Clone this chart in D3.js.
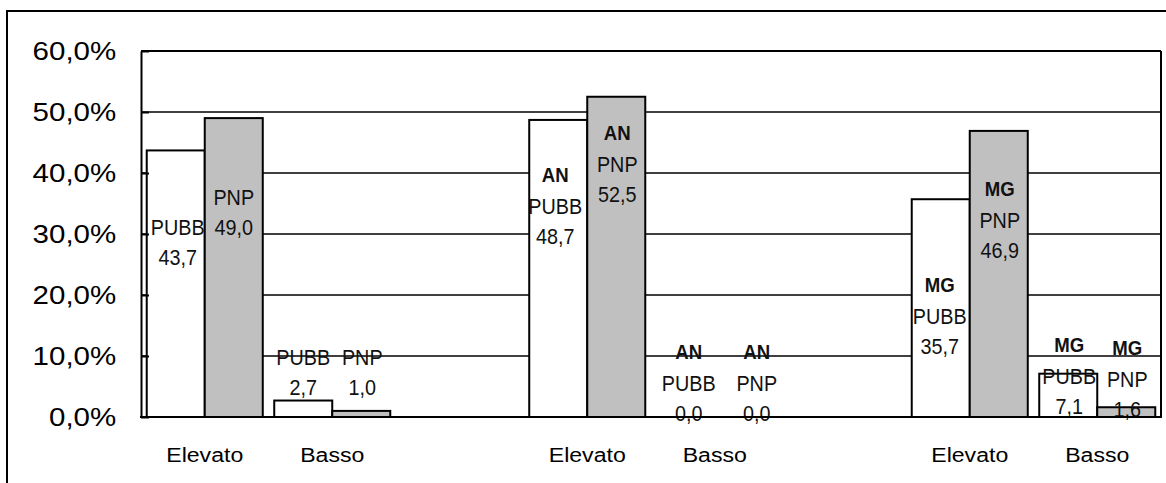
<!DOCTYPE html>
<html>
<head>
<meta charset="utf-8">
<script src="https://cdn.jsdelivr.net/npm/d3@7"></script>
<style>
  body { margin: 0; background: #fff; }
  svg { display: block; }
  .tick-label { font-family: "Liberation Sans", Arial, sans-serif; font-size: 25px; fill: #000; }
  .cat-label { font-family: "Liberation Sans", Arial, sans-serif; font-size: 21px; fill: #000; }
  .bar-label { font-family: "Liberation Sans", Arial, sans-serif; font-size: 22px; fill: #111; }
  .bar-label.bold { font-weight: bold; font-size: 20px; }
</style>
</head>
<body>
<div class="chart"></div>
<script>
// data
const groups = ["", "AN", "MG"]
const levels = ["Elevato", "Basso"]
const series = ["PUBB", "PNP"]
const pubbValues = [43.7, 2.7, 48.7, 0.0, 35.7, 7.1]
const pnpValues = [49.0, 1.0, 52.5, 0.0, 46.9, 1.6]
const yTicks = [0, 10, 20, 30, 40, 50, 60]

// where the original put the first line of each label (in % of the y axis)
const pubbLabelAt = [31.2, 9.9, 39.7, 10.7, 21.6, 11.8]
const pnpLabelAt = [36.1, 9.9, 46.6, 10.7, 37.4, 11.3]
const pubbLabelDx = [2, 0, -3, 3, -1, 1]
const pnpLabelDx = [0, 1, 1, 13, 1, 1]

const W = 1166, H = 483
const margin = {top: 51, right: 5, bottom: 66, left: 141}
const stretch = 1.1      // text in the picture is a little wide
const narrow = 0.9       // bar labels use a narrow face

const svg = d3.select(".chart").append("svg")
    .attr("width", W)
    .attr("height", H)

// outer frame
svg.append("rect")
    .attr("x", 7).attr("y", 11)
    .attr("width", W).attr("height", H)
    .attr("fill", "none")
    .attr("stroke", "#000")
    .attr("stroke-width", 2)

// slots: each group has Elevato + Basso, with an empty slot between groups
const slots = []
groups.forEach((g, gi) => {
    levels.forEach((l, li) => slots.push(`${gi}-${li}`))
    if (gi < groups.length - 1) slots.push(`gap${gi}`)
})

const rows = []
groups.forEach((g, gi) => {
    levels.forEach((l, li) => {
        const i = gi * levels.length + li
        rows.push({
            slot: `${gi}-${li}`, group: g, level: l,
            values: [
                {s: "PUBB", v: pubbValues[i], at: pubbLabelAt[i], dx: pubbLabelDx[i]},
                {s: "PNP", v: pnpValues[i], at: pnpLabelAt[i], dx: pnpLabelDx[i]}
            ]
        })
    })
})

const x = d3.scaleBand()
    .domain(slots)
    .range([margin.left, W - margin.right])
    .paddingInner(0.09)
    .paddingOuter(0.045)

const xs = d3.scaleBand()
    .domain(series)
    .range([0, x.bandwidth()])

const y = d3.scaleLinear()
    .domain([0, 60])
    .range([H - margin.bottom, margin.top])

const x0 = margin.left, x1 = W - margin.right

// gridlines
svg.append("g")
  .selectAll("line")
  .data(yTicks.filter(d => d > 0))
  .join("line")
    .attr("x1", x0).attr("x2", x1)
    .attr("y1", d => y(d)).attr("y2", d => y(d))
    .attr("stroke", "#000")
    .attr("stroke-width", 1.4)

// right border of the plot
svg.append("line")
    .attr("x1", x1).attr("x2", x1)
    .attr("y1", y(60)).attr("y2", y(0))
    .attr("stroke", "#000")
    .attr("stroke-width", 2)

// bars
const barG = svg.append("g")
  .selectAll("g")
  .data(rows)
  .join("g")
    .attr("transform", d => `translate(${x(d.slot)},0)`)

barG.selectAll("rect")
  .data(d => d.values)
  .join("rect")
    .attr("x", d => xs(d.s))
    .attr("y", d => y(d.v))
    .attr("width", xs.bandwidth())
    .attr("height", d => y(0) - y(d.v))
    .attr("fill", d => d.s == "PNP" ? "#c0c0c0" : "#fff")
    .attr("stroke", "#000")
    .attr("stroke-width", d => d.v > 0 ? 2 : 0)

// labels
const fmt = v => v.toFixed(1).replace(".", ",")
rows.forEach(r => {
    r.values.forEach(d => {
        const cx = x(r.slot) + xs(d.s) + xs.bandwidth() / 2 + d.dx
        let ly = y(d.at)
        const lines = []
        if (r.group) { lines.push({t: r.group, bold: true, y: ly}); ly += 31 }
        lines.push({t: d.s, bold: false, y: ly}); ly += 30
        lines.push({t: fmt(d.v), bold: false, y: ly})
        lines.forEach(l => {
            svg.append("text")
                .attr("class", l.bold ? "bar-label bold" : "bar-label")
                .attr("transform", `translate(${cx},${l.y}) scale(${l.bold ? narrow + 0.03 : narrow},1)`)
                .attr("text-anchor", "middle")
                .attr("dy", "0.36em")
                .text(l.t)
        })
    })
})

// y axis, ticks pointing inward
const yAxis = svg.append("g")
    .attr("transform", `translate(${x0},0)`)
    .call(d3.axisLeft(y).tickValues(yTicks).tickSize(-8).tickSizeOuter(0).tickPadding(21)
        .tickFormat(d => fmt(d) + "%"))
yAxis.select(".domain").attr("stroke-width", 2)
yAxis.selectAll(".tick line").attr("stroke-width", 2)
yAxis.selectAll(".tick text")
    .attr("class", "tick-label")
    .attr("font-size", null).attr("font-family", null)
    .attr("transform", "scale(1.18,1)")

// top border and baseline
svg.append("line")
    .attr("x1", x0).attr("x2", x1)
    .attr("y1", y(60)).attr("y2", y(60))
    .attr("stroke", "#000").attr("stroke-width", 2)
svg.append("line")
    .attr("x1", x0 - 1).attr("x2", x1 + 1)
    .attr("y1", y(0)).attr("y2", y(0))
    .attr("stroke", "#000").attr("stroke-width", 2)

// category labels
svg.append("g")
  .selectAll("text")
  .data(rows)
  .join("text")
    .attr("class", "cat-label")
    .attr("text-anchor", "middle")
    .attr("transform", d => `translate(${x(d.slot) + x.bandwidth() / 2},${y(0) + 45}) scale(${stretch},1)`)
    .text(d => d.level)
</script>
</body>
</html>
